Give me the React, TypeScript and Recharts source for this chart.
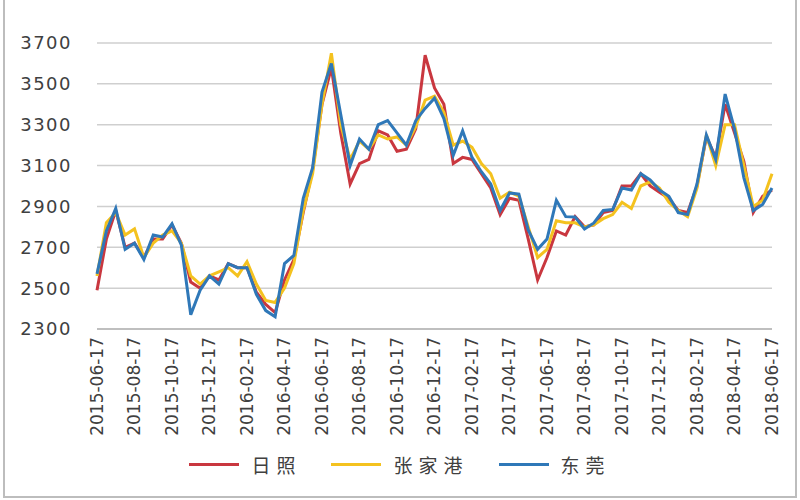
import { LineChart, Line, XAxis, YAxis, CartesianGrid, Legend } from "recharts";

const dates = [
  "2015-06-17", "2015-07-02", "2015-07-17", "2015-08-02", "2015-08-17", "2015-09-02", "2015-09-17",
  "2015-10-02", "2015-10-17", "2015-11-02", "2015-11-17", "2015-12-02", "2015-12-17",
  "2016-01-02", "2016-01-17", "2016-02-02", "2016-02-17", "2016-03-02", "2016-03-17", "2016-04-02",
  "2016-04-17", "2016-05-02", "2016-05-17", "2016-06-02", "2016-06-17", "2016-07-02", "2016-07-17",
  "2016-08-02", "2016-08-17", "2016-09-02", "2016-09-17", "2016-10-02", "2016-10-17", "2016-11-02",
  "2016-11-17", "2016-12-02", "2016-12-17",
  "2017-01-02", "2017-01-17", "2017-02-02", "2017-02-17", "2017-03-02", "2017-03-17", "2017-04-02",
  "2017-04-17", "2017-05-02", "2017-05-17", "2017-06-02", "2017-06-17", "2017-07-02", "2017-07-17",
  "2017-08-02", "2017-08-17", "2017-09-02", "2017-09-17", "2017-10-02", "2017-10-17", "2017-11-02",
  "2017-11-17", "2017-12-02", "2017-12-17",
  "2018-01-02", "2018-01-17", "2018-02-02", "2018-02-17", "2018-03-02", "2018-03-17", "2018-04-02",
  "2018-04-17", "2018-05-02", "2018-05-17", "2018-06-02", "2018-06-17",
];

// 日照
const rizhao = [
  2490, 2740, 2880, 2700, 2720, 2650, 2740, 2740, 2810, 2720, 2530, 2500, 2560,
  2540, 2620, 2600, 2600, 2480, 2420, 2380, 2540, 2640, 2870, 3080, 3400, 3580,
  3260, 3010, 3110, 3130, 3270, 3250, 3170, 3180, 3280, 3640, 3480,
  3400, 3110, 3140, 3130, 3060, 2990, 2860, 2940, 2930, 2740, 2540, 2650, 2780,
  2760, 2850, 2800, 2810, 2870, 2880, 3000, 3000, 3060, 3000, 2970,
  2940, 2880, 2870, 3000, 3240, 3140, 3400, 3260, 3120, 2870, 2950, 2980,
];

// 张家港
const zhangjiagang = [
  2560, 2820, 2870, 2760, 2790, 2650, 2720, 2760, 2780, 2720, 2560, 2520, 2560,
  2580, 2600, 2560, 2630, 2520, 2440, 2430, 2500, 2620, 2880, 3060, 3400, 3650,
  3300, 3130, 3220, 3180, 3250, 3230, 3240, 3200, 3290, 3420, 3440,
  3360, 3200, 3220, 3190, 3110, 3060, 2940, 2970, 2950, 2800, 2650, 2690, 2830,
  2820, 2820, 2800, 2810, 2840, 2860, 2920, 2890, 3000, 3020, 2990,
  2920, 2880, 2850, 2990, 3250, 3100, 3300, 3300, 3100, 2900, 2930, 3060,
];

// 东莞
const dongguan = [
  2570, 2780, 2890, 2690, 2720, 2640, 2760, 2750, 2815, 2710, 2370, 2490, 2560,
  2520, 2620, 2600, 2600, 2470, 2390, 2360, 2620, 2660, 2940, 3090, 3460, 3600,
  3350, 3100, 3230, 3180, 3300, 3320, 3260, 3200, 3320, 3380, 3430,
  3330, 3150, 3270, 3140, 3070, 3010, 2880, 2966, 2960, 2785, 2690, 2740, 2930,
  2850, 2848, 2790, 2819, 2880, 2885, 2990, 2980, 3060, 3030, 2980,
  2950, 2870, 2860, 3010, 3250, 3130, 3450, 3280, 3040, 2880, 2910, 2990,
];

const yTicks = [2300, 2500, 2700, 2900, 3100, 3300, 3500, 3700];

const series = [
  { key: "rizhao", name: "日照", color: "#c9373f" },
  { key: "zhangjiagang", name: "张家港", color: "#f4c21f" },
  { key: "dongguan", name: "东莞", color: "#2f78b8" },
];

const data = dates.map((d, i) => ({
  date: d,
  rizhao: rizhao[i],
  zhangjiagang: zhangjiagang[i],
  dongguan: dongguan[i],
}));

const DateTick = ({ x, y, payload }: any) => (
  <g transform={`translate(${x},${y})`}>
    <text
      transform="rotate(-90)"
      textAnchor="end"
      dy="0.35em"
      x={0}
      fontSize={17}
      fontFamily="DejaVu Sans"
      fill="#404040"
    >
      {payload.value}
    </text>
  </g>
);

const LegendBox = () => (
  <div style={{ display: "flex", justifyContent: "center", alignItems: "center", gap: 30 }}>
    {series.map((s) => (
      <div key={s.key} style={{ display: "flex", alignItems: "center" }}>
        <span style={{ display: "inline-block", width: 50, height: 3, background: s.color, marginRight: 12 }} />
        <span style={{ fontFamily: "Noto Sans CJK SC", fontSize: 19, color: "#404040", letterSpacing: 6 }}>
          {s.name}
        </span>
      </div>
    ))}
  </div>
);

export default function App() {
  return (
    <div
      style={{
        position: "absolute",
        left: 0,
        top: 0,
        width: 800,
        height: 500,
        background: "#fff",
      }}
    >
      <div
        style={{
          position: "absolute",
          left: 3,
          top: 0,
          width: 790,
          height: 496,
          borderLeft: "2px solid #bdbdbd",
          borderRight: "2px solid #bdbdbd",
          borderBottom: "2px solid #bdbdbd",
        }}
      />
      <LineChart
        width={800}
        height={500}
        data={data}
        margin={{ top: 43, right: 28, left: 17, bottom: 61 }}
      >
        <CartesianGrid vertical={false} stroke="#cfcfcf" strokeWidth={1.5} />
        <XAxis
          dataKey="date"
          interval={3}
          tickLine={false}
          axisLine={{ stroke: "#bfbfbf", strokeWidth: 2 }}
          height={110}
          tick={<DateTick />}
        />
        <YAxis
          domain={[2300, 3700]}
          ticks={yTicks}
          axisLine={false}
          tickLine={false}
          width={80}
          tickMargin={19}
          tick={{ fontSize: 18, fill: "#404040", fontFamily: "DejaVu Sans", letterSpacing: 1.5 }}
        />
        <Legend
          verticalAlign="middle"
          align="center"
          layout="horizontal"
          content={<LegendBox />}
          wrapperStyle={{ top: 451, left: 0, width: 800 }}
        />
        {series.map((s) => (
          <Line
            key={s.key}
            dataKey={s.key}
            name={s.name}
            stroke={s.color}
            strokeWidth={3}
            dot={false}
            type="linear"
            isAnimationActive={false}
          />
        ))}
      </LineChart>
    </div>
  );
}
